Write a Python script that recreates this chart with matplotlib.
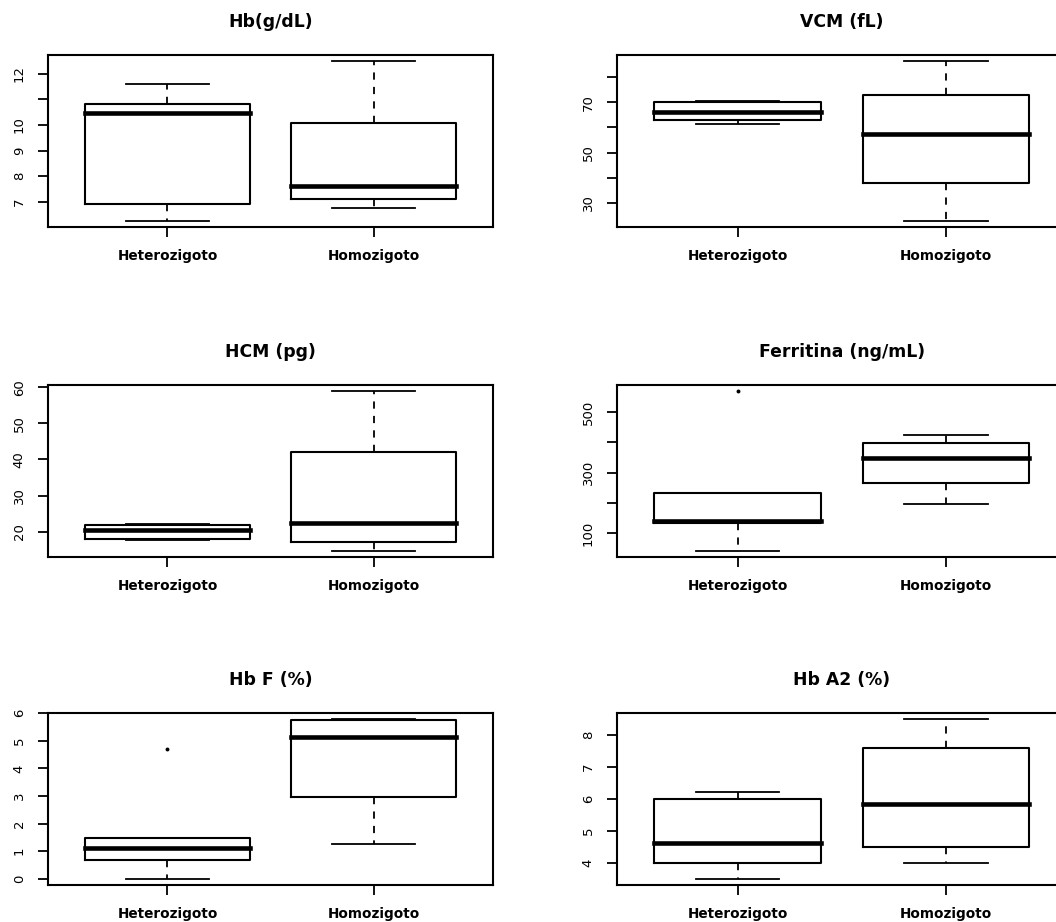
import matplotlib.pyplot as plt

plt.rcParams['font.family'] = ['DejaVu Sans']

groups = ['Heterozigoto', 'Homozigoto']
titles = ['Hb(g/dL)', 'VCM (fL)', 'HCM (pg)', 'Ferritina (ng/mL)', 'Hb F (%)', 'Hb A2 (%)']

# whisker low, Q1, median, Q3, whisker high -- one row per group
hb = [[6.27, 6.91, 10.47, 10.81, 11.6], [6.78, 7.11, 7.63, 10.07, 12.48]]
vcm = [[61.3, 63.1, 66.0, 70.0, 70.5], [23.0, 38.1, 57.2, 73.0, 86.2]]
hcm = [[17.7, 18.0, 20.3, 21.9, 22.2], [14.7, 17.0, 22.4, 42.1, 58.9]]
ferritina = [[42, 133, 139, 233, 233], [196, 267, 348, 396, 424]]
hbf = [[0.0, 0.68, 1.11, 1.47, 1.47], [1.25, 2.95, 5.14, 5.74, 5.78]]
hba2 = [[3.52, 4.0, 4.64, 6.0, 6.23], [4.0, 4.51, 5.85, 7.6, 8.48]]
outliers = [[[], []], [[], []], [[], []], [[568], []], [[4.72], []], [[], []]]
panels = [hb, vcm, hcm, ferritina, hbf, hba2]

# y ticks and their labels (R drops labels that would overlap)
yticks = [[7, 8, 9, 10, 11, 12], [30, 40, 50, 60, 70, 80], [20, 30, 40, 50, 60],
          [100, 200, 300, 400, 500], [0, 1, 2, 3, 4, 5, 6], [4, 5, 6, 7, 8]]
ylabels = [['7', '8', '9', '10', '', '12'], ['30', '', '50', '', '70', ''],
           ['20', '30', '40', '50', '60'], ['100', '', '300', '', '500'],
           ['0', '1', '2', '3', '4', '5', '6'], ['4', '5', '6', '7', '8']]

W, H = 1056, 922
fig = plt.figure(figsize=(W / 100, H / 100), dpi=100)

col_x = [(48, 445), (617, 450)]
row_y = [(55, 227), (385, 557), (713, 885)]

for i, data in enumerate(panels):
    r, c = divmod(i, 2)
    x0, w = col_x[c]
    top, bot = row_y[r]
    ax = fig.add_axes([x0 / W, 1 - bot / H, w / W, (bot - top) / H])

    stats = []
    for g, s in enumerate(data):
        stats.append(dict(whislo=s[0], q1=s[1], med=s[2], q3=s[3], whishi=s[4],
                          fliers=outliers[i][g], label=groups[g]))
    ax.bxp(stats, positions=[1, 2], widths=0.8, capwidths=0.4,
           boxprops=dict(color='black', lw=1.5),
           whiskerprops=dict(color='black', lw=1.3, linestyle=(0, (4, 4))),
           capprops=dict(color='black', lw=1.3),
           medianprops=dict(color='black', lw=3.3, solid_capstyle='projecting'),
           flierprops=dict(marker='o', markersize=1.8, markerfacecolor='black',
                           markeredgecolor='black'))

    lo = min(min(s[0] for s in data), min([v for o in outliers[i] for v in o] + [1e9]))
    hi = max(max(s[4] for s in data), max([v for o in outliers[i] for v in o] + [-1e9]))
    pad = (hi - lo) * 0.04
    ax.set_ylim(lo - pad, hi + pad)
    ax.set_xlim(0.42, 2.58)

    ax.set_yticks(yticks[i])
    ax.set_yticklabels(ylabels[i], rotation=90, va='center', fontsize=9.5)
    ax.set_xticks([1, 2])
    ax.set_xticklabels(groups, fontsize=9.8, fontweight='bold')
    ax.tick_params(axis='both', length=7, width=1.3, color='black')
    ax.tick_params(axis='x', pad=9)
    ax.tick_params(axis='y', pad=9)
    for sp in ax.spines.values():
        sp.set_linewidth(1.5)

    ax.text(0.5, 1 + 33 / (bot - top), titles[i], transform=ax.transAxes,
            ha='center', va='center', fontsize=12.4, fontweight='bold')

fig.savefig('out.png', dpi=100)
